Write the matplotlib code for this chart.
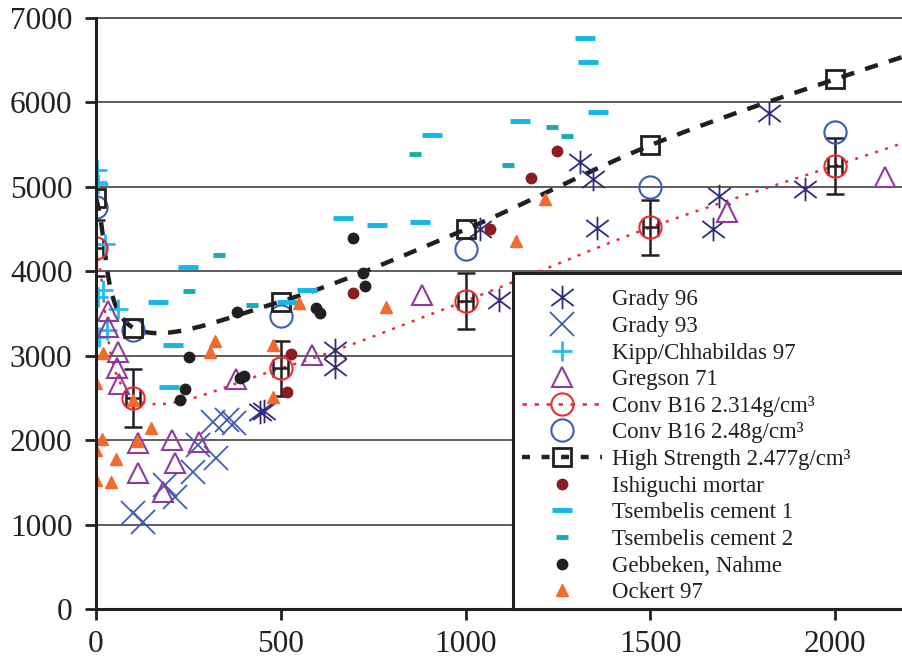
import numpy as np
import matplotlib
matplotlib.use('Agg')
import matplotlib.pyplot as plt
from matplotlib.lines import Line2D
from matplotlib.patches import Rectangle
from matplotlib.path import Path

plt.rcParams['font.family'] = ['Liberation Serif', 'DejaVu Serif']

# ---- data: impact velocity (m/s) vs. stress (MPa) ----
grady96_x = [445, 455, 647, 647, 1040, 1090, 1310, 1345, 1356, 1670, 1686, 1821, 1919]
grady96_y = [2330, 2350, 3070, 2870, 4500, 3665, 5300, 5090, 4510, 4500, 4890, 5880, 4980]

grady93_x = [100, 127, 187, 214, 263, 276, 325, 317, 355, 373]
grady93_y = [1140, 1030, 1470, 1330, 1625, 1945, 1790, 2220, 2240, 2205]

kipp_x = [3, 3, 5, 24, 19, 5, 60, 30, 8]
kipp_y = [5200, 5060, 5030, 4320, 3780, 3700, 3550, 3310, 3225]

gregson_x = [32, 32, 60, 57, 62, 115, 115, 205, 215, 180, 280, 380, 585, 882, 1708, 2135]
gregson_y = [3530, 3340, 3040, 2860, 2660, 1610, 1970, 2000, 1730, 1380, 1980, 2720, 3010, 3725, 4700, 5120]

# Conv B16 2.314 g/cm3 - last point lies past the plotted range
convb16a_x = [0, 100, 500, 1000, 1500, 2000, 2500]
convb16a_y = [4280, 2500, 2850, 3650, 4520, 5250, 5980]
convb16a_yerr = [330, 340, 330, 330, 330, 330, 330]
convb16a_xerr = [20, 20, 20, 20, 20, 20, 20]

convb16b_x = [0, 100, 500, 1000, 1500, 2000]
convb16b_y = [4760, 3300, 3465, 4260, 4995, 5645]

# High strength 2.477 g/cm3 - last point lies past the plotted range
highstr_x = [0, 100, 500, 1000, 1500, 2000, 2500]
highstr_y = [4870, 3333, 3642, 4496, 5492, 6275, 6980]

ishiguchi_x = [517, 527, 696, 1066, 1177, 1248]
ishiguchi_y = [2575, 3025, 3737, 4496, 5100, 5420]

tsem1_x = [168, 198, 208, 249, 517, 571, 668, 760, 877, 909, 1147, 1323, 1332, 1359]
tsem1_y = [3640, 2630, 3130, 4045, 3642, 3780, 4626, 4545, 4580, 5620, 5777, 6760, 6477, 5884]

tsem2_x = [252, 333, 422, 863, 1115, 1234, 1275]
tsem2_y = [3772, 4188, 3606, 5386, 5255, 5706, 5600]

gebbeken_x = [227, 241, 252, 382, 390, 400, 595, 606, 696, 723, 728]
gebbeken_y = [2470, 2610, 2980, 3515, 2740, 2755, 3570, 3510, 4390, 3985, 3830]

ockert_x = [0, 41, 0, 16, 54, 111, 149, 0, 19, 100, 308, 322, 479, 479, 549, 785, 1137, 1215]
ockert_y = [1530, 1506, 1886, 2017, 1779, 1993, 2147, 2681, 3037, 2479, 3049, 3179, 3132, 2515, 3630, 3582, 4353, 4852]

labels = ['Grady 96', 'Grady 93', 'Kipp/Chhabildas 97', 'Gregson 71',
          'Conv B16 2.314g/cm\u00b3', 'Conv B16 2.48g/cm\u00b3',
          'High Strength 2.477g/cm\u00b3', 'Ishiguchi mortar',
          'Tsembelis cement 1', 'Tsembelis cement 2', 'Gebbeken, Nahme', 'Ockert 97']


def smooth_curve(xs, ys, n=40):
    # Catmull-Rom spline through the points (like a spreadsheet "smoothed line")
    pts = np.column_stack([xs, ys]).astype(float)
    p = np.vstack([2 * pts[0] - pts[1], pts, 2 * pts[-1] - pts[-2]])
    t = np.linspace(0, 1, n)[:, None]
    segs = []
    for i in range(1, len(p) - 2):
        p0, p1, p2, p3 = p[i - 1], p[i], p[i + 1], p[i + 2]
        seg = 0.5 * (2 * p1 + (-p0 + p2) * t + (2 * p0 - 5 * p1 + 4 * p2 - p3) * t ** 2
                     + (-p0 + 3 * p1 - 3 * p2 + p3) * t ** 3)
        segs.append(seg)
    c = np.vstack(segs)
    return c[:, 0], c[:, 1]


# asterisk: vertical bar plus a flattened X
star_path = Path([(0, -1), (0, 1), (-0.95, -0.72), (0.95, 0.72), (-0.95, 0.72), (0.95, -0.72)],
                 [Path.MOVETO, Path.LINETO, Path.MOVETO, Path.LINETO, Path.MOVETO, Path.LINETO])

c_g96 = '#2e2b7c'
c_g93 = '#3d5eb2'
c_kipp = '#22bdee'
c_greg = '#8e3a9e'
c_red = '#ec2a30'
c_blue = '#3c5db2'
c_black = '#231f20'
c_ishi = '#8b1c20'
c_ts1 = '#12b6e8'
c_ts2 = '#17abb2'
c_ock = '#f36b2c'

fig = plt.figure(figsize=(9.03, 6.59), dpi=100)
ax = fig.add_axes([96 / 903, 50 / 659, 807 / 903, 591 / 659])

# smoothed fit lines
sx, sy = smooth_curve(convb16a_x, convb16a_y)
ax.plot(sx, sy, color=c_red, lw=1.8, linestyle=(0, (1.2, 3)), zorder=3)
hx, hy = smooth_curve(highstr_x, highstr_y)
ax.plot(hx, hy, color=c_black, lw=3.2, linestyle=(0, (3, 2.6)), zorder=3)

# error bars on Conv B16 2.314
ax.errorbar(convb16a_x, convb16a_y, yerr=convb16a_yerr, xerr=convb16a_xerr, fmt='none',
            ecolor=c_black, elinewidth=1.8, capsize=6.5, capthick=1.8, zorder=4)

ax.plot(grady96_x, grady96_y, linestyle='none', marker=star_path, ms=17, mec=c_g96, mew=1.3, zorder=4)
ax.plot(grady93_x, grady93_y, linestyle='none', marker='x', ms=17, mec=c_g93, mew=1.3, zorder=4)
ax.plot(kipp_x, kipp_y, linestyle='none', marker='+', ms=15, mec=c_kipp, mew=2, zorder=4)
ax.plot(gregson_x, gregson_y, linestyle='none', marker='^', ms=15, mfc='none', mec=c_greg, mew=1.5, zorder=4)
ax.plot(convb16a_x, convb16a_y, linestyle='none', marker='o', ms=16, mfc='none', mec=c_red, mew=1.5, zorder=5)
ax.plot(convb16b_x, convb16b_y, linestyle='none', marker='o', ms=16, mfc='none', mec=c_blue, mew=1.5, zorder=4)
ax.plot(highstr_x, highstr_y, linestyle='none', marker='s', ms=13, mfc='none', mec=c_black, mew=2, zorder=4)
ax.plot(ishiguchi_x, ishiguchi_y, linestyle='none', marker='o', ms=7.5, mfc=c_ishi, mec=c_ishi, zorder=4)
ax.plot(tsem1_x, tsem1_y, linestyle='none', marker='_', ms=15, mec=c_ts1, mew=3.5, zorder=4)
ax.plot(tsem2_x, tsem2_y, linestyle='none', marker='_', ms=8.5, mec=c_ts2, mew=3.5, zorder=4)
ax.plot(gebbeken_x, gebbeken_y, linestyle='none', marker='o', ms=7.5, mfc=c_black, mec=c_black, zorder=4)
ax.plot(ockert_x, ockert_y, linestyle='none', marker='^', ms=9, mfc=c_ock, mec=c_ock, zorder=4)

ax.set_xlim(0, 2184)
ax.set_ylim(0, 7000)
ax.set_xticks([0, 500, 1000, 1500, 2000])
ax.set_yticks(range(0, 7001, 1000))

ax.yaxis.grid(True, color='#505050', lw=1.3)
ax.set_axisbelow(True)
ax.spines['right'].set_visible(False)
ax.spines['top'].set_color('#505050')
ax.spines['top'].set_linewidth(1.3)
for side in ['left', 'bottom']:
    ax.spines[side].set_color(c_black)
    ax.spines[side].set_linewidth(2.2)
    ax.spines[side].set_zorder(6)
ax.tick_params(axis='both', direction='out', length=8, width=2, color=c_black,
               labelsize=22.5, labelcolor=c_black)
ax.tick_params(axis='y', pad=9)
ax.tick_params(axis='x', pad=7)

# legend box: opaque, runs off the right edge
box = Rectangle((417 / 807, 0), 0.6, 336 / 591, transform=ax.transAxes, facecolor='white',
                edgecolor=c_black, lw=2.2, zorder=7, clip_on=False)
ax.add_patch(box)

handles = [
    Line2D([], [], linestyle='none', marker=star_path, ms=17, mec=c_g96, mew=1.3),
    Line2D([], [], linestyle='none', marker='x', ms=17, mec=c_g93, mew=1.3),
    Line2D([], [], linestyle='none', marker='+', ms=15, mec=c_kipp, mew=2),
    Line2D([], [], linestyle='none', marker='^', ms=15, mfc='none', mec=c_greg, mew=1.5),
    Line2D([], [], color=c_red, lw=1.8, linestyle=(0, (1.8, 3)), marker='o', ms=16, mfc='none',
           mec=c_red, mew=1.5),
    Line2D([], [], linestyle='none', marker='o', ms=16, mfc='none', mec=c_blue, mew=1.5),
    Line2D([], [], color=c_black, lw=3.2, linestyle=(0, (1.8, 2.6)), marker='s', ms=13, mfc='none',
           mec=c_black, mew=2),
    Line2D([], [], linestyle='none', marker='o', ms=7.5, mfc=c_ishi, mec=c_ishi),
    Line2D([], [], linestyle='none', marker='_', ms=15, mec=c_ts1, mew=3.5),
    Line2D([], [], linestyle='none', marker='_', ms=8.5, mec=c_ts2, mew=3.5),
    Line2D([], [], linestyle='none', marker='o', ms=7.5, mfc=c_black, mec=c_black),
    Line2D([], [], linestyle='none', marker='^', ms=9, mfc=c_ock, mec=c_ock),
]
leg = ax.legend(handles, labels, loc='upper left', bbox_to_anchor=(417 / 807, 329 / 591),
                frameon=False, fontsize=16.5, handlelength=3.5, handletextpad=0.4,
                borderpad=0.4, labelspacing=0.245, borderaxespad=0, numpoints=1)
leg.set_zorder(8)
for t in leg.get_texts():
    t.set_color(c_black)

fig.savefig('out.png', dpi=100)
